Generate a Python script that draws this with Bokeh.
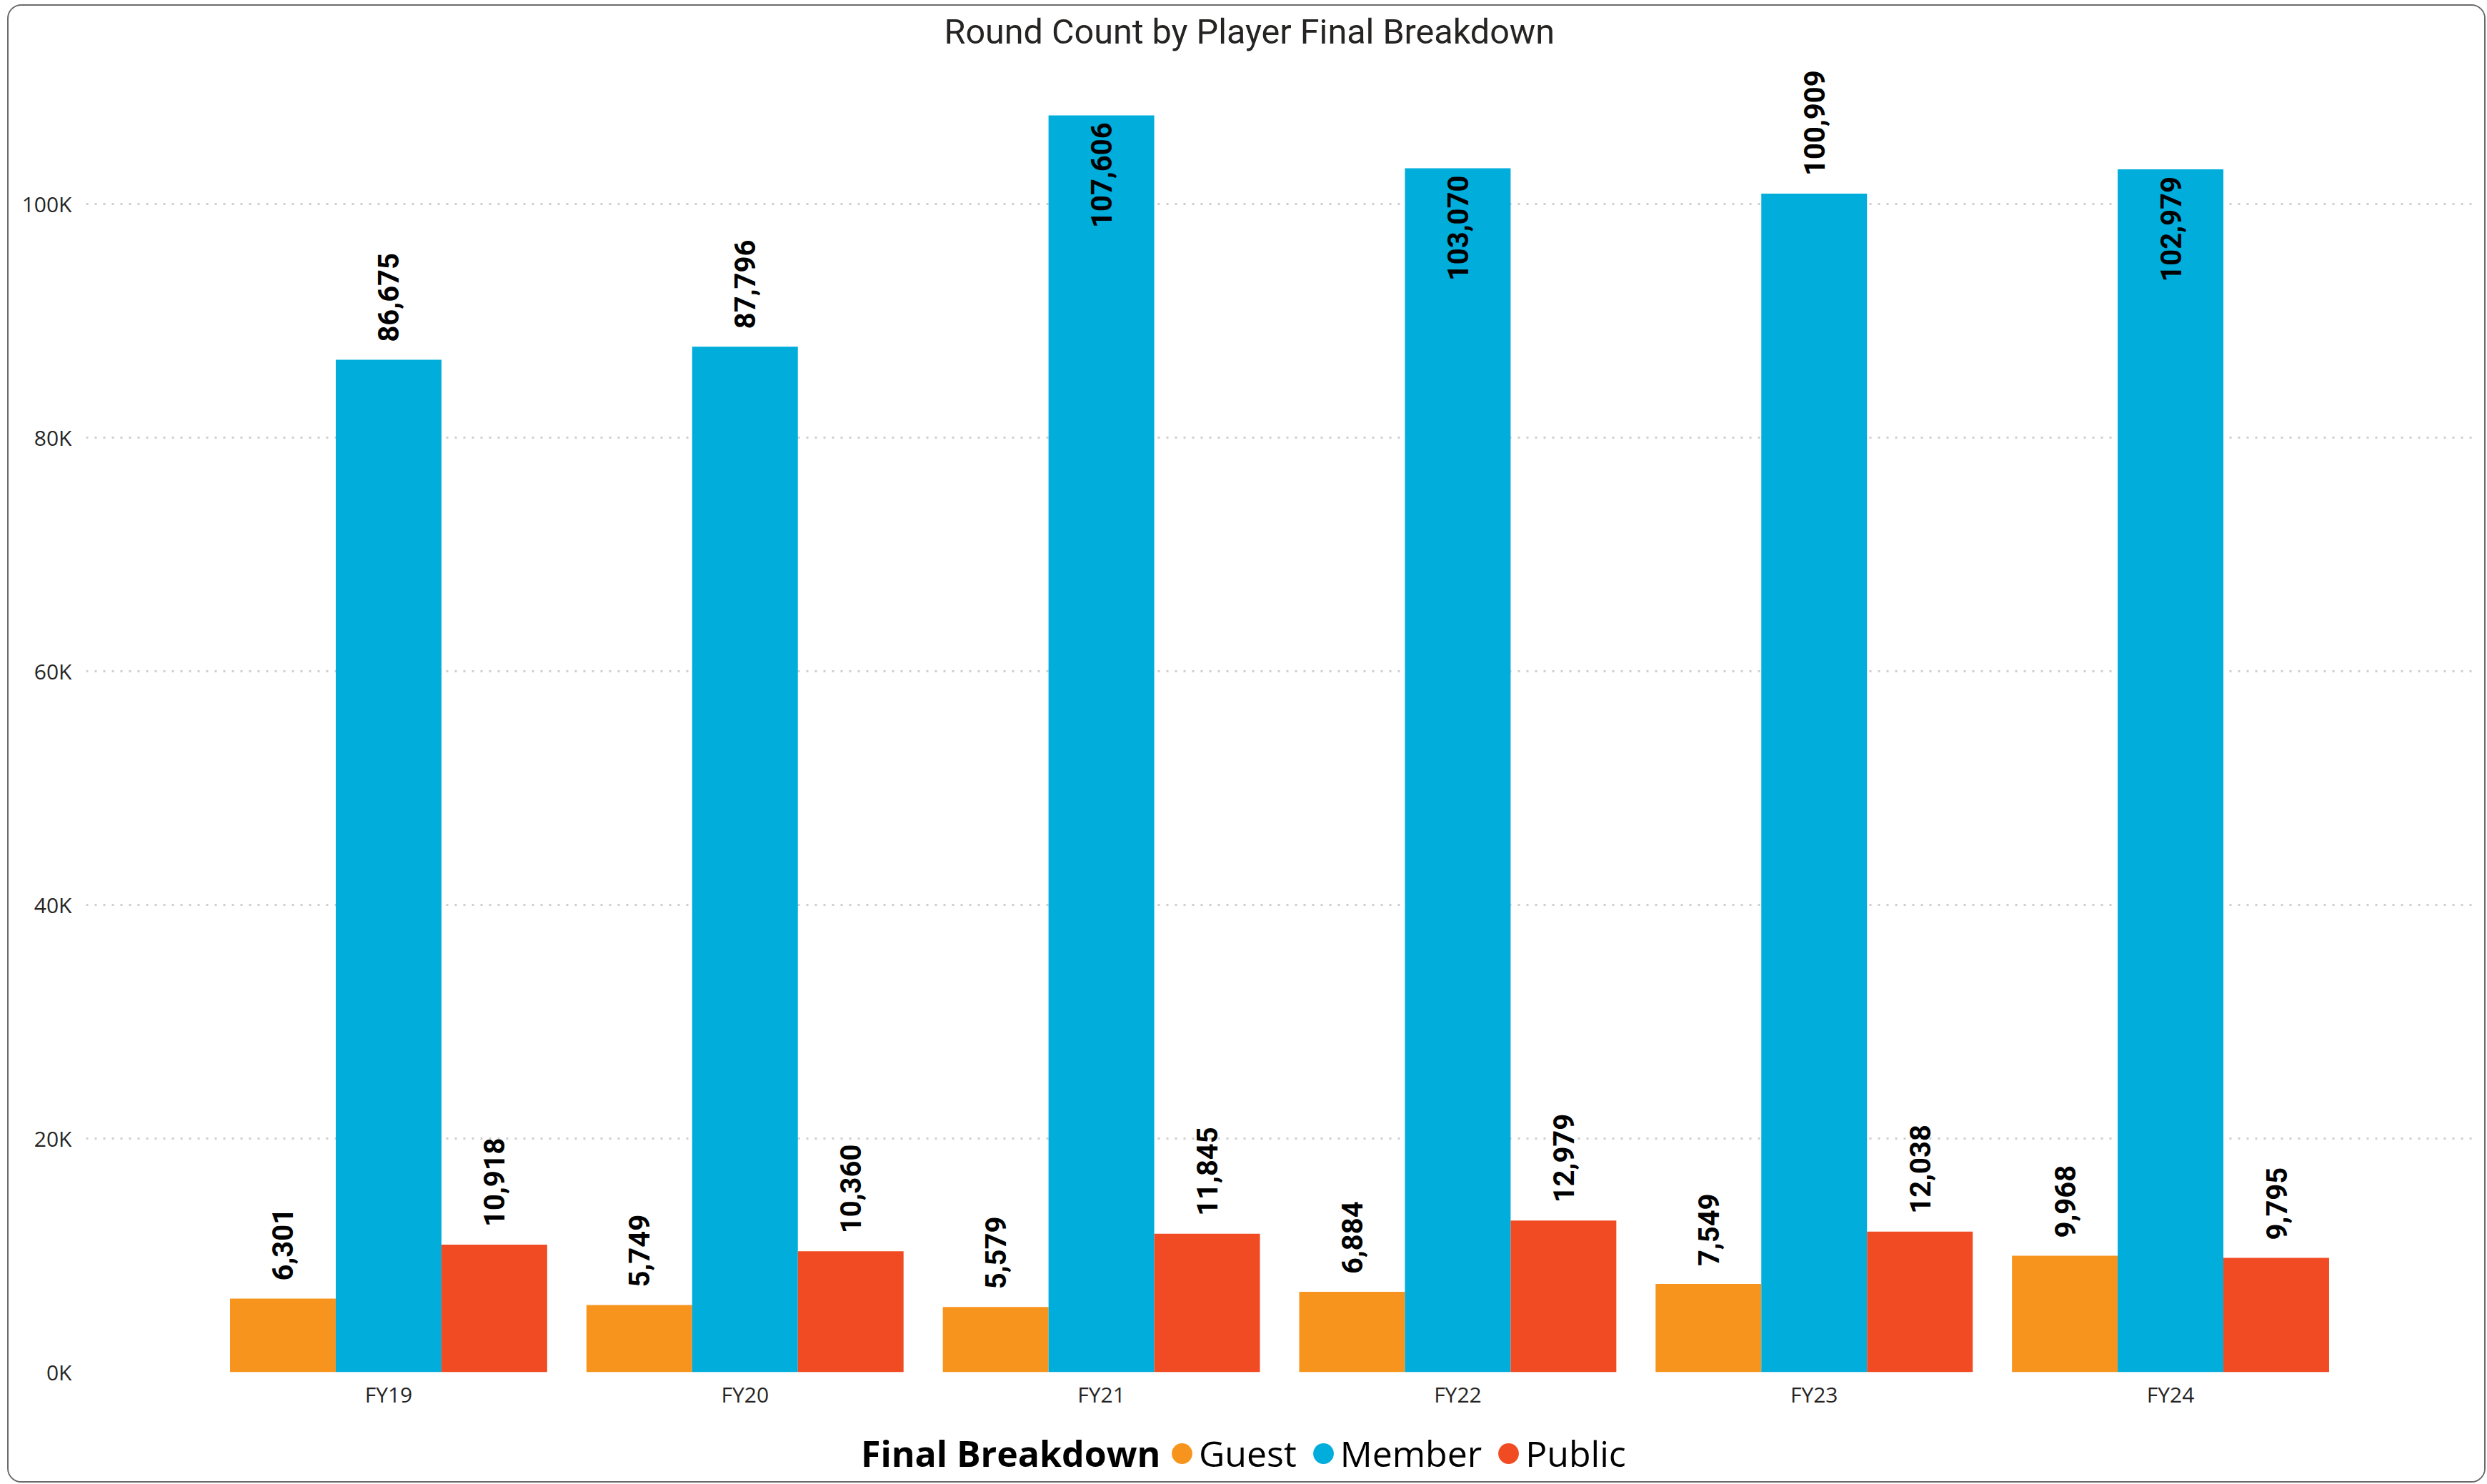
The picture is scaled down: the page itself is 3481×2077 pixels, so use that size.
import math
from bokeh.plotting import figure
from bokeh.layouts import column
from bokeh.models import (ColumnDataSource, FactorRange, Range1d, FixedTicker,
                          CustomJSTickFormatter, Legend, LegendItem)
from bokeh.transform import dodge
from bokeh.core.properties import value
from bokeh.embed import file_html
from bokeh.resources import INLINE

# ---------------- data ----------------
years = ["FY19", "FY20", "FY21", "FY22", "FY23", "FY24"]
guest = [6301, 5749, 5579, 6884, 7549, 9968]
member = [86675, 87796, 107606, 103070, 100909, 102979]
public = [10918, 10360, 11845, 12979, 12038, 9795]
series_names = ["Guest", "Member", "Public"]
series_colors = ["#F7941D", "#00ADDB", "#F04B23"]
y_ticks = [0, 20000, 40000, 60000, 80000, 100000]
y_max = 112800
legend_title = "Final Breakdown"
chart_title = "Round Count by Player Final Breakdown"

# ---------------- layout ----------------
W = 3465
H_main, H_leg = 1972, 93
bar_w = 0.2966
offsets = [-bar_w, 0.0, bar_w]
label_room = 11000  # data units needed above a bar for an outside label
TXT = "#252423"

p = figure(x_range=FactorRange(factors=years, range_padding=0.1163, factor_padding=0),
           y_range=Range1d(0, y_max),
           width=W, height=H_main, output_backend="svg", toolbar_location=None,
           min_border_left=108, min_border_right=16, min_border_top=68,
           min_border_bottom=60)
p.background_fill_color = "white"
p.border_fill_color = "white"
p.outline_line_color = None

p.title.text = chart_title
p.title.align = "left"
p.title.offset = 1201
p.title.text_font = "Roboto"
p.title.text_font_style = "normal"
p.title.text_font_size = "48.5px"
p.title.text_color = TXT
p.title.standoff = 8

p.xgrid.visible = False
p.ygrid.grid_line_color = "#cfcfcf"
p.ygrid.grid_line_dash = "3 9"
p.ygrid.grid_line_width = 3

p.yaxis.ticker = FixedTicker(ticks=y_ticks)
p.yaxis.formatter = CustomJSTickFormatter(code="return (tick/1000).toFixed(0) + 'K';")
for ax in (p.xaxis[0], p.yaxis[0]):
    ax.axis_line_color = None
    ax.major_tick_line_color = None
    ax.minor_tick_line_color = None
    ax.major_tick_out = 0
    ax.major_tick_in = 0
    ax.major_label_text_font = "Open Sans"
    ax.major_label_text_font_size = "30px"
    ax.major_label_text_color = TXT
p.yaxis.major_label_standoff = 20
p.xaxis.major_label_standoff = 10

series_vals = [guest, member, public]
for name, vals, col, off in zip(series_names, series_vals, series_colors, offsets):
    src = ColumnDataSource(dict(x=years, y=vals))
    p.vbar(x=dodge("x", off, range=p.x_range), top="y", width=bar_w, source=src,
           fill_color=col, line_color=None)

    out_x, out_y, out_t, in_x, in_y, in_t = [], [], [], [], [], []
    for yr, v in zip(years, vals):
        if v + label_room > y_max:
            in_x.append(yr); in_y.append(v); in_t.append(f"{v:,}")
        else:
            out_x.append(yr); out_y.append(v); out_t.append(f"{v:,}")
    common = dict(angle=math.pi / 2, text_baseline="middle",
                  text_font=value("Roboto"), text_font_style="bold",
                  text_font_size="40px", text_color="black")
    if out_x:
        p.text(x=dodge("x", off, range=p.x_range), y="y", text="t",
               source=ColumnDataSource(dict(x=out_x, y=out_y, t=out_t)),
               text_align="left", y_offset=-25, **common)
    if in_x:
        p.text(x=dodge("x", off, range=p.x_range), y="y", text="t",
               source=ColumnDataSource(dict(x=in_x, y=in_y, t=in_t)),
               text_align="right", y_offset=10, **common)

# ---------------- legend strip ----------------
lf = figure(width=W, height=H_leg, output_backend="svg", toolbar_location=None,
            x_range=Range1d(0, 1), y_range=Range1d(0, 1),
            x_axis_location=None, y_axis_location=None,
            min_border_left=0, min_border_right=0, min_border_top=0, min_border_bottom=0)
lf.grid.visible = False
lf.outline_line_color = None
lf.background_fill_color = "white"
lf.border_fill_color = "white"

# legend-only renderers: their single point lies outside the strip's ranges
r_title = lf.scatter(x=[-5], y=[-5], size=0, fill_alpha=0, line_alpha=0)
leg1 = Legend(items=[LegendItem(label=legend_title, renderers=[r_title])],
              location=(1085, 5), orientation="horizontal",
              glyph_width=0, glyph_height=30, label_standoff=0, padding=0, margin=0,
              border_line_color=None, background_fill_alpha=0,
              label_text_font="Open Sans", label_text_font_style="bold",
              label_text_font_size="50px", label_text_color="black")
leg_items = []
for name, col in zip(series_names, series_colors):
    r = lf.ellipse(x=[-5], y=[-5], width=29, height=29, width_units="screen",
                   height_units="screen", fill_color=col, line_color=None)
    leg_items.append(LegendItem(label=name, renderers=[r]))
leg2 = Legend(items=leg_items, location=(1516, 5), orientation="horizontal",
              glyph_width=36, glyph_height=36, label_standoff=6, spacing=19,
              padding=0, margin=0, border_line_color=None, background_fill_alpha=0,
              label_text_font="Open Sans", label_text_font_size="50px",
              label_text_color="black")
lf.add_layout(leg1, "center")
lf.add_layout(leg2, "center")

layout = column(p, lf, spacing=0)
layout.styles = {"border": "2px solid #6b6b6b", "border-radius": "20px",
                 "overflow": "hidden", "margin": "6px 0 0 10px", "background": "white"}

open("out.html", "w").write(file_html(layout, INLINE))
